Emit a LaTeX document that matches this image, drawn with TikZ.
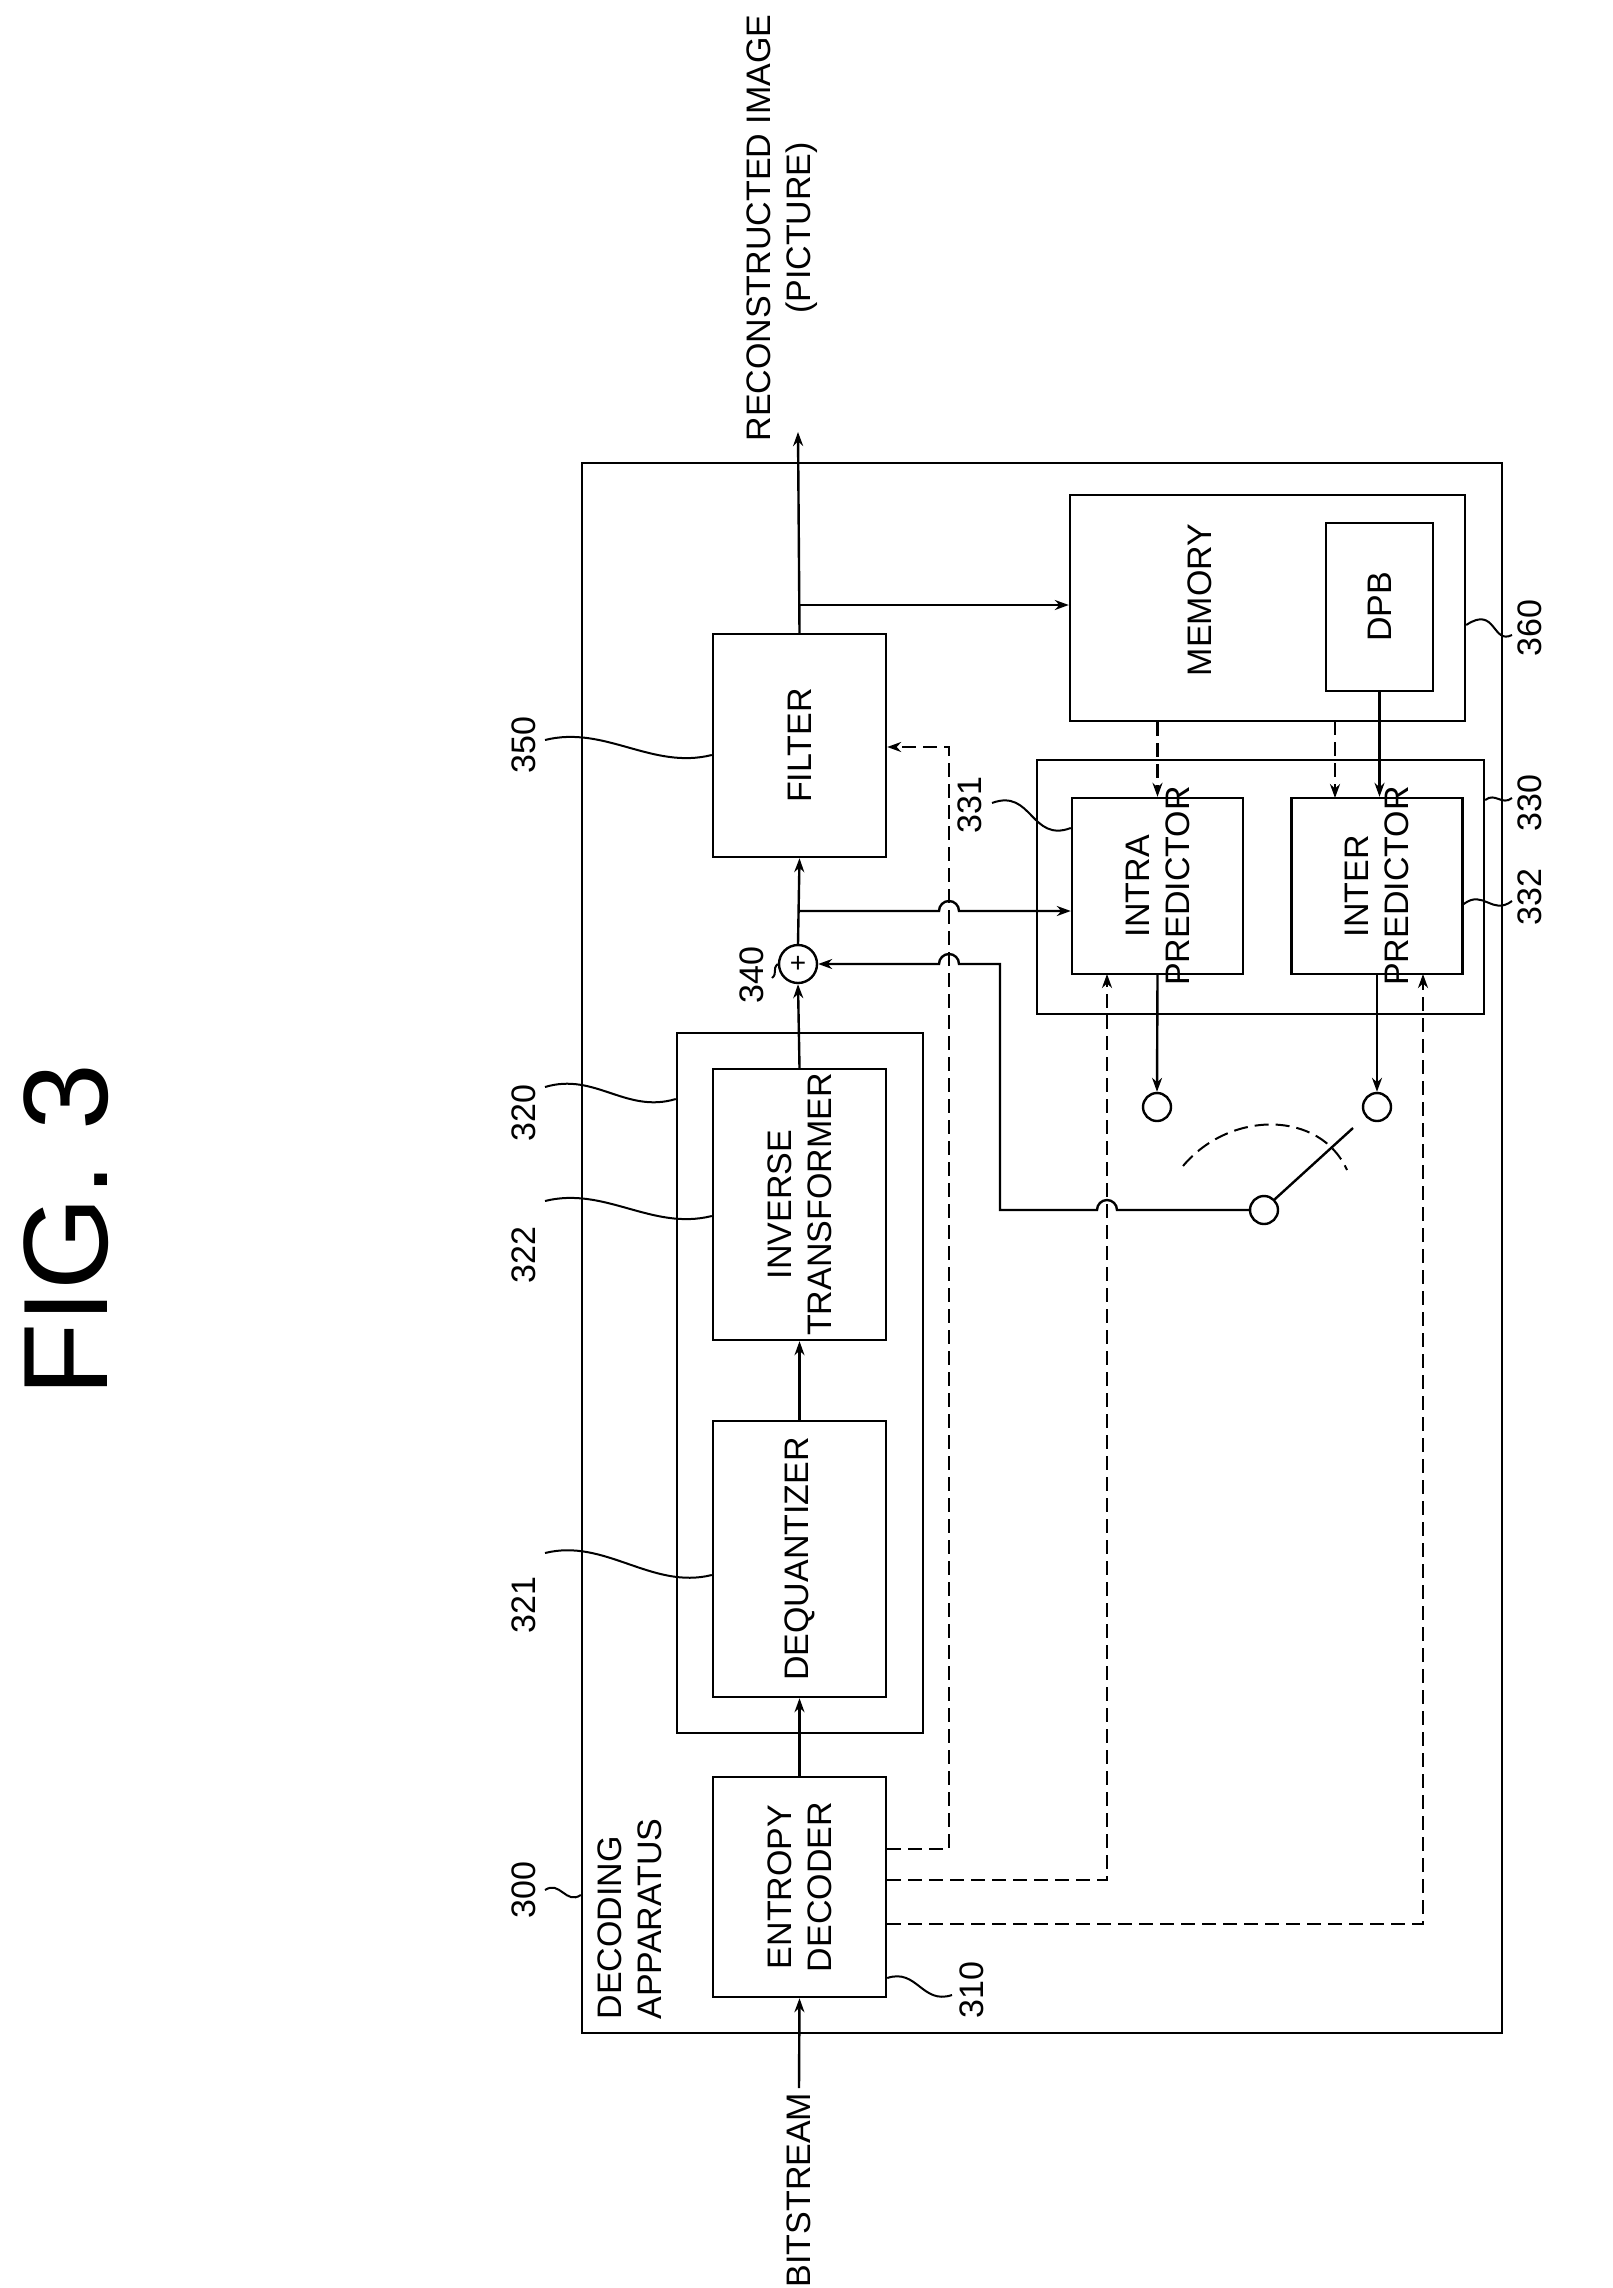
\documentclass[tikz,border=0pt]{standalone}
\usepackage{fontspec}
\setmainfont{Liberation Sans}
\usetikzlibrary{arrows.meta}

\tikzset{every picture/.style={line width=2.4pt}}
\tikzset{
  blk/.style={draw, rectangle, inner sep=0pt},
  txt/.style={rotate=90, align=center, font=\fontsize{34}{40}\selectfont},
  num/.style={rotate=90, font=\fontsize{34}{40}\selectfont},
  ctl/.style={dash pattern=on 14pt off 7pt},
  lead/.style={line width=2pt},
  >={Stealth[length=14pt,width=10pt,open]}
}

\begin{document}
\begin{tikzpicture}[x=1pt,y=-1pt]
  \useasboundingbox (0,0) rectangle (1612,2288);

  % frames
  \node[blk, minimum width=920pt, minimum height=1570pt] (dec) at (1042,1248) {};
  \node[blk, minimum width=246pt, minimum height=700pt] (grp) at (800,1383) {};
  \node[blk, minimum width=447pt, minimum height=254pt] (pred) at (1260.5,887) {};

  % blocks
  \node[blk, minimum width=173pt, minimum height=220pt] (ent) at (799.5,1887) {};
  \node[blk, minimum width=173pt, minimum height=276pt] (deq) at (799.5,1559) {};
  \node[blk, minimum width=173pt, minimum height=271pt] (inv) at (799.5,1204.5) {};
  \node[blk, minimum width=173pt, minimum height=223pt] (filt) at (799.5,745.5) {};
  \node[blk, minimum width=395pt, minimum height=226pt] (mem) at (1267.5,608) {};
  \node[blk, minimum width=107pt, minimum height=168pt] (dpb) at (1379.5,607) {};
  \node[blk, minimum width=171pt, minimum height=176pt] (intra) at (1157.5,886) {};
  \node[blk, minimum width=171pt, minimum height=176pt] (inter) at (1377,886) {};
  \node[draw, circle, minimum size=38pt, inner sep=0pt] (add) at (798,964) {};
  \node[draw, circle, minimum size=28pt, inner sep=0pt] (sa) at (1157,1107) {};
  \node[draw, circle, minimum size=28pt, inner sep=0pt] (sb) at (1377,1107) {};
  \node[draw, circle, minimum size=28pt, inner sep=0pt] (sw) at (1264,1210) {};

  % texts
  \node[txt] at (ent) {ENTROPY\\DECODER};
  \node[txt] at (deq) {DEQUANTIZER};
  \node[txt] at (inv) {INVERSE\\TRANSFORMER};
  \node[txt] at (filt) {FILTER};
  \node[txt] at (1200,600) {MEMORY};
  \node[txt] at (dpb) {DPB};
  \node[txt] at (intra) {INTRA\\PREDICTOR};
  \node[txt] at (inter) {INTER\\PREDICTOR};
  \node[font=\fontsize{28}{30}\selectfont] at (add) {+};
  \node[txt, anchor=north west, align=left] (dectxt) at (593,2024) {DECODING\\APPARATUS};
  \node[txt] (bits) at (799,2190) {BITSTREAM};
  \node[txt] (rec) at (782,228) {RECONSTRUCTED IMAGE\\(PICTURE)};
  \node[rotate=90, font=\fontsize{120}{130}\selectfont] (fig) at (66,1230) {FIG. 3};

  % data path
  \coordinate (out) at (798,432);
  \draw[->] (bits.east) -- (ent.south);
  \draw[->] (ent.north) -- (deq.south);
  \draw[->] (deq.north) -- (inv.south);
  \draw[->] (inv.north) -- (add.south);
  \draw[->] (add.north) -- (filt.south);
  \draw[->] (filt.north) -- (out);
  \draw[->] (798,605) -- (mem.west |- 0,605);
  \draw[->] (798,911) -- (939,911) arc[start angle=180, end angle=360, radius=10] -- (intra.west |- 0,911);
  \draw[->] (sw.west) -- (1117,1210) arc[start angle=0, end angle=-180, radius=10]
    -- (1000,1210) -- (1000,964) -- (959,964) arc[start angle=0, end angle=-180, radius=10] -- (add.east);
  \draw[->] (intra.south) -- (sa.north);
  \draw[->] (inter.south -| sb) -- (sb.north);
  \draw[->] (dpb.south) -- (dpb.south |- inter.north);

  % control path
  \draw[ctl, ->] (ent.east |- 0,1849) -- (949,1849) -- (949,747) -- (filt.east |- 0,747);
  \draw[ctl, ->] (ent.east |- 0,1880) -- (1107,1880) -- (1107,974);
  \draw[ctl, ->] (ent.east |- 0,1924) -- (1423,1924) -- (1423,974);
  \draw[ctl, ->] (mem.south -| intra) -- (intra.north);
  \draw[ctl, ->] (1335,721) -- (1335,798);

  % switch
  \draw (sw.north east) -- (1353,1128);
  \draw[ctl, line width=2pt] (1183,1166) .. controls (1230,1110) and (1320,1110) .. (1347,1170);

  % reference numerals
  \node[num] (n300) at (524,1890) {300};
  \draw[lead] (545,1890) .. controls +(15,-10) and +(-15,10) .. (dec.west |- 0,1895);
  \node[num] (n350) at (524,745) {350};
  \draw[lead] (545,740) .. controls +(60,-15) and +(-60,15) .. (filt.west |- 0,755);
  \node[num] (n320) at (524,1113) {320};
  \draw[lead] (545,1087) .. controls +(50,-15) and +(-50,15) .. (grp.west |- 0,1099);
  \node[num] (n322) at (524,1255) {322};
  \draw[lead] (545,1201) .. controls +(60,-15) and +(-60,15) .. (inv.west |- 0,1216);
  \node[num] (n321) at (524,1605) {321};
  \draw[lead] (545,1553) .. controls +(60,-15) and +(-60,15) .. (deq.west |- 0,1575);
  \node[num] (n310) at (972,1990) {310};
  \draw[lead] (ent.east |- 0,1978) .. controls +(30,-10) and +(-30,10) .. (952,1995);
  \node[num] (n340) at (752,975) {340};
  \draw[lead] (772,978) .. controls +(6,-5) and +(-6,5) .. (add.west);
  \node[num] (n331) at (970,805) {331};
  \draw[lead] (992,803) .. controls +(40,-15) and +(-40,15) .. (intra.west |- 0,828);
  \node[num] (n330) at (1530,803) {330};
  \draw[lead] (pred.east |- 0,800) .. controls +(10,-8) and +(-10,8) .. (1512,798);
  \node[num] (n332) at (1530,897) {332};
  \draw[lead] (inter.east |- 0,904) .. controls +(20,-15) and +(-20,15) .. (1512,901);
  \node[num] (n360) at (1530,628) {360};
  \draw[lead] (mem.east |- 0,625) .. controls +(30,-20) and +(-20,10) .. (1512,635);
\end{tikzpicture}
\end{document}
